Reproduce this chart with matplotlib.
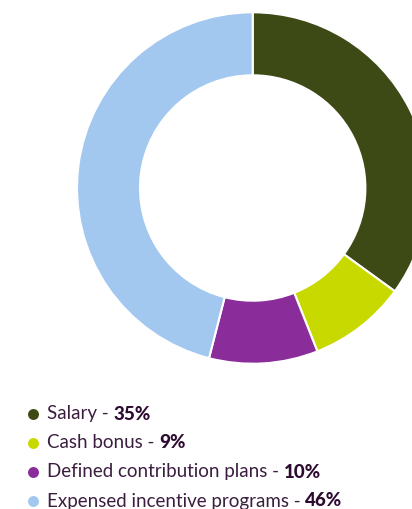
import matplotlib
matplotlib.use("Agg")
import matplotlib.pyplot as plt

# data
labels = ["Salary", "Cash bonus", "Defined contribution plans", "Expensed incentive programs"]
shares = [35, 9, 10, 46]
colors = ["#3d4a15", "#c8d900", "#8a2c9a", "#a3c8f0"]

W, H = 412, 509
fig = plt.figure(figsize=(W / 100, H / 100), dpi=100)
ax = fig.add_axes([0, 0, 1, 1])

# donut, partly cut off at the right edge like the original
ax.pie(shares, colors=colors, startangle=90, counterclock=False,
       center=(252.7, H - 188), radius=175.7,
       wedgeprops=dict(width=63, edgecolor="white", linewidth=1.5))
ax.set_xlim(0, W)
ax.set_ylim(0, H)
ax.set_aspect("equal")
ax.axis("off")

# legend with mixed weights
txt_color = "#3b1e3f"
row_y = [414, 443, 472, 501]
fig.canvas.draw()
renderer = fig.canvas.get_renderer()
for lab, val, col, y in zip(labels, shares, colors, row_y):
    ax.scatter([33], [H - y], s=62, color=col, zorder=3, clip_on=False, linewidths=0)
    t = ax.text(47, H - y, f"{lab} - ", fontsize=13.5, family="Lato",
                color=txt_color, va="center", ha="left")
    bb = t.get_window_extent(renderer=renderer)
    x_end = ax.transData.inverted().transform((bb.x1, bb.y0))[0]
    ax.text(x_end, H - y, f"{val}%", fontsize=13.5, family="Lato", fontweight="black",
            color="#2d0a30", va="center", ha="left")

fig.savefig("out.png", dpi=100)
